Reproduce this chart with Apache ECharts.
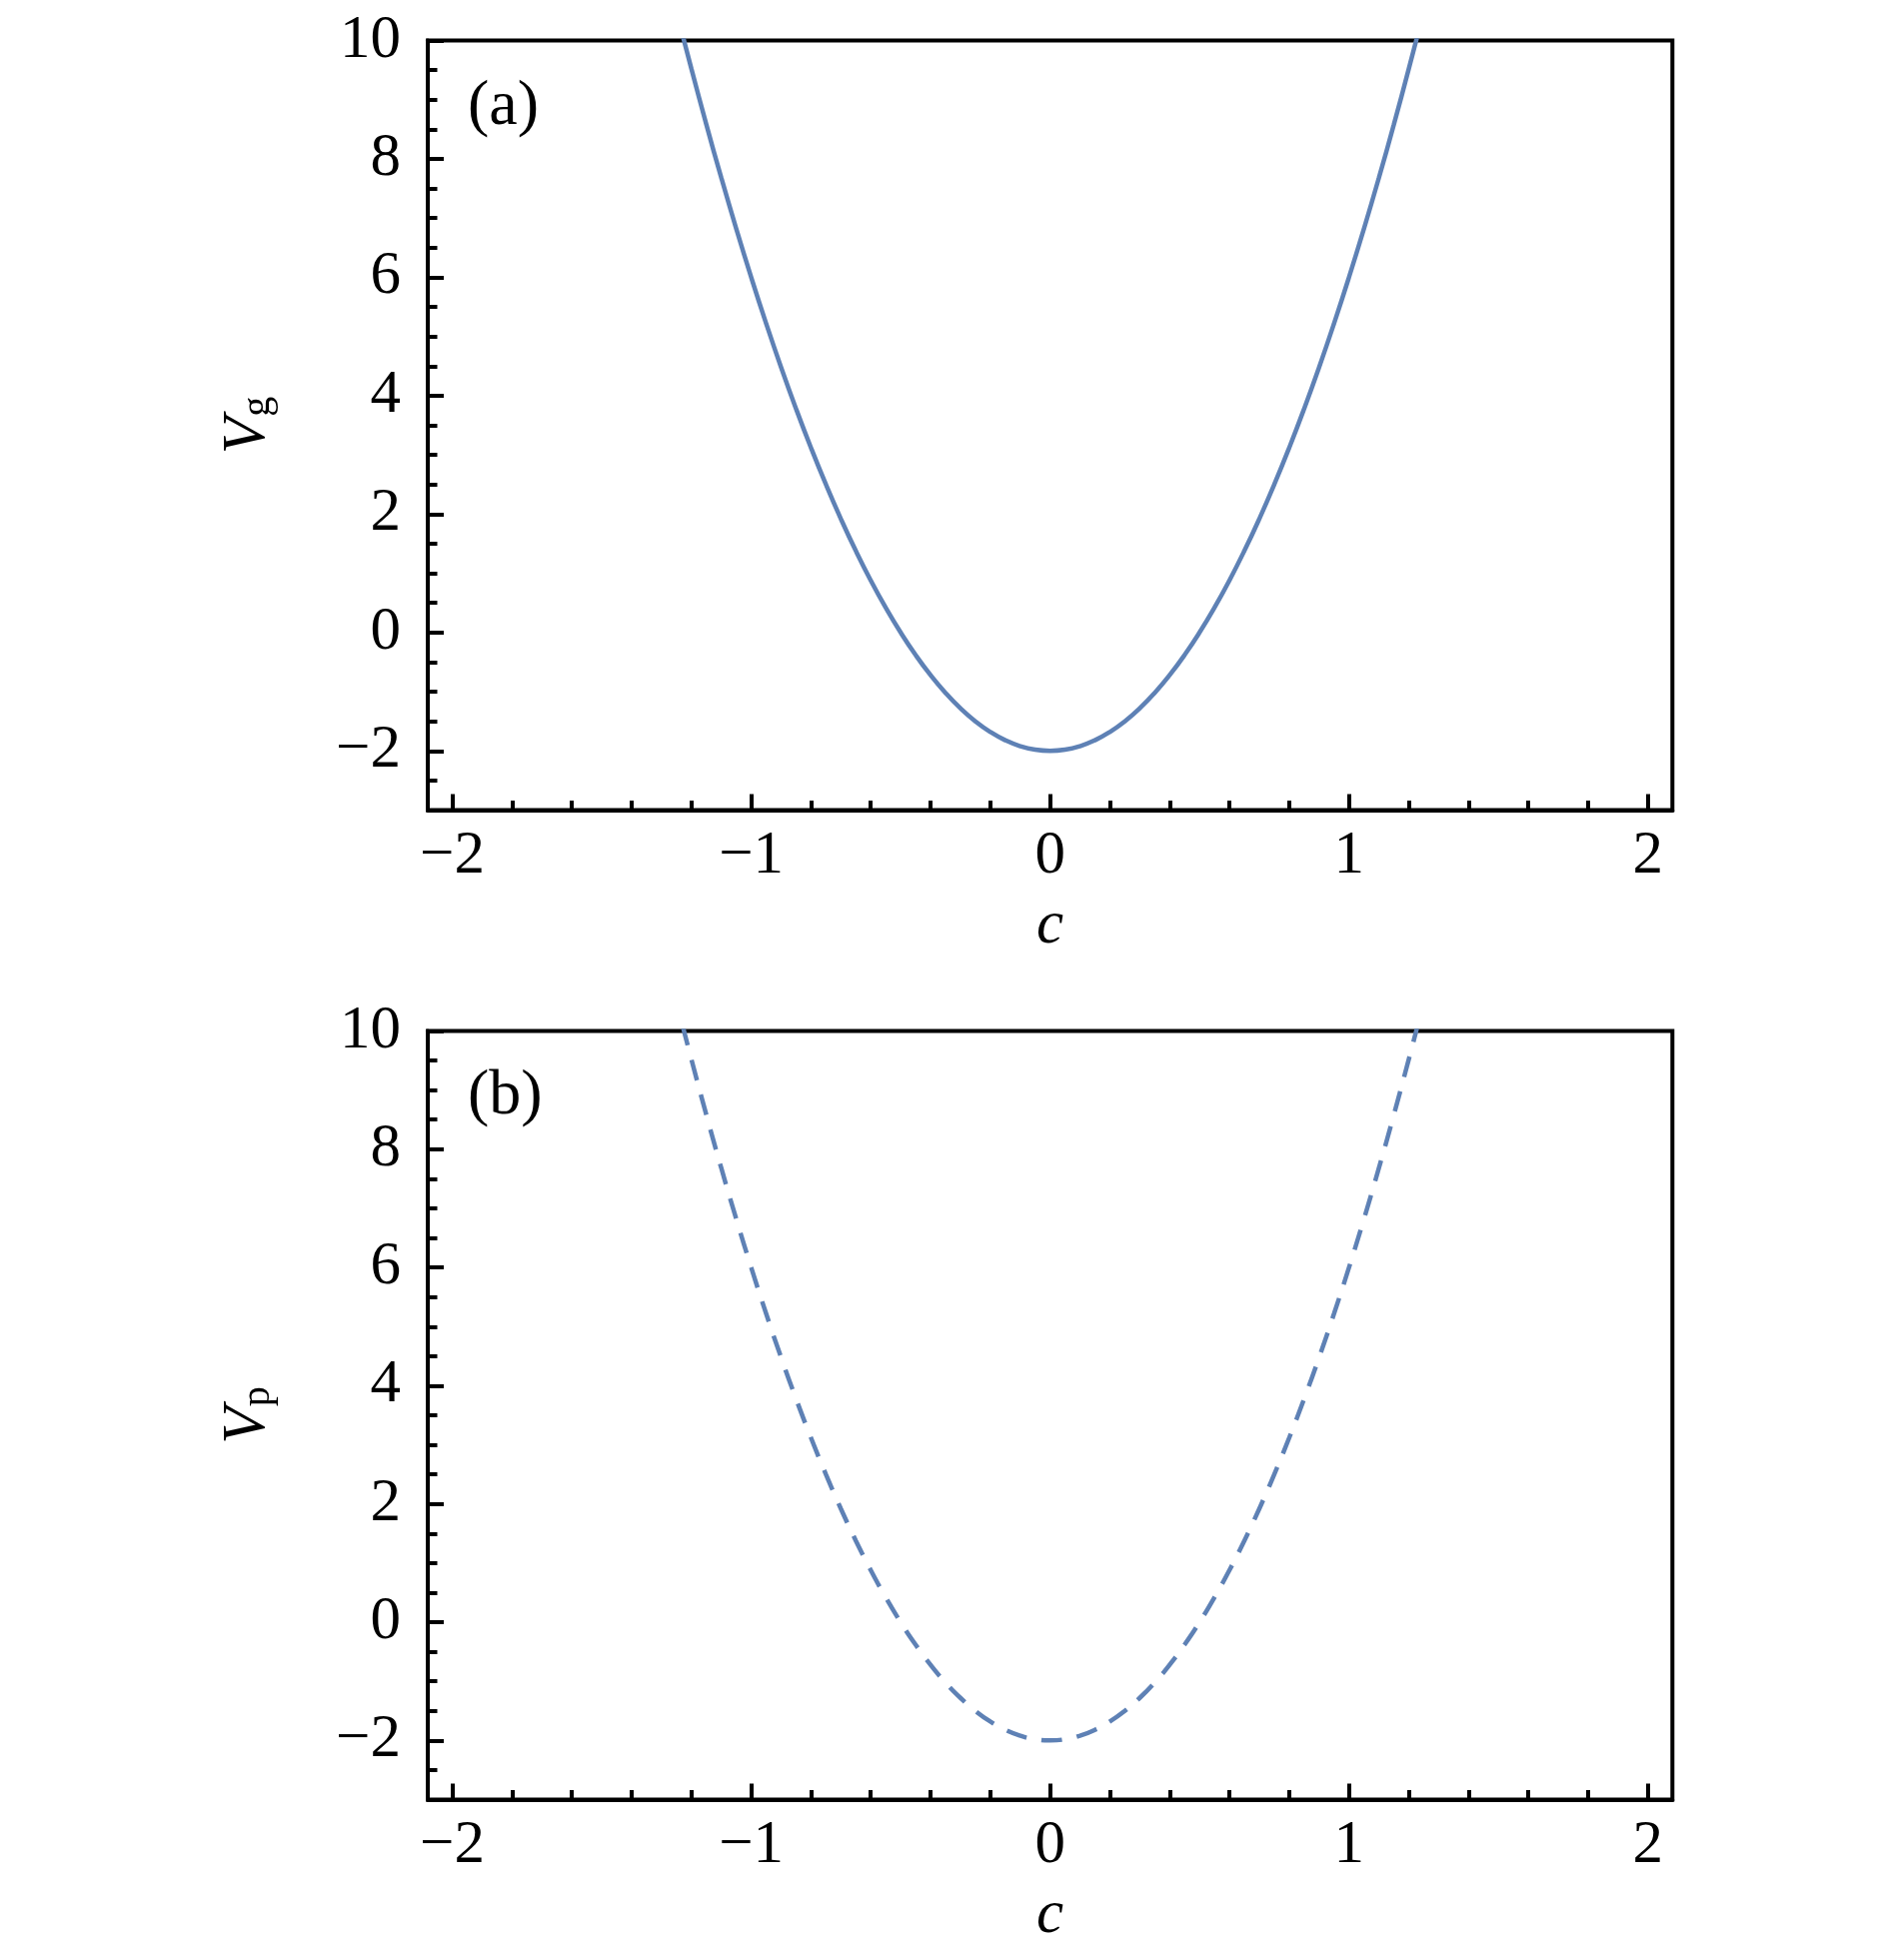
<!DOCTYPE html>
<html>
<head>
<meta charset="utf-8">
<script src="https://cdn.jsdelivr.net/npm/echarts@6/dist/echarts.min.js"></script>
<style>
html,body{margin:0;padding:0;background:#fff;}
#chart{width:1890px;height:1961px;}
</style>
</head>
<body>
<div id="chart"></div>
<script>
// ---- data ----
const cValues = [-1.23, -1.2, -1.15, -1.1, -1.05, -1.0, -0.95, -0.9, -0.85, -0.8, -0.75, -0.7, -0.65, -0.6,
                 -0.55, -0.5, -0.45, -0.4, -0.35, -0.3, -0.25, -0.2, -0.15, -0.1, -0.05, 0.0,
                 0.05, 0.1, 0.15, 0.2, 0.25, 0.3, 0.35, 0.4, 0.45, 0.5, 0.55, 0.6, 0.65, 0.7, 0.75,
                 0.8, 0.85, 0.9, 0.95, 1.0, 1.05, 1.1, 1.15, 1.2, 1.23];
const vgValues = [10.1, 9.52, 8.58, 7.68, 6.82, 6.0, 5.22, 4.48, 3.78, 3.12, 2.5, 1.92, 1.38, 0.88,
                  0.42, 0.0, -0.38, -0.72, -1.02, -1.28, -1.5, -1.68, -1.82, -1.92, -1.98, -2.0,
                  -1.98, -1.92, -1.82, -1.68, -1.5, -1.28, -1.02, -0.72, -0.38, 0.0, 0.42, 0.88, 1.38, 1.92, 2.5,
                  3.12, 3.78, 4.48, 5.22, 6.0, 6.82, 7.68, 8.58, 9.52, 10.1];
const vpValues = [10.1, 9.52, 8.58, 7.68, 6.82, 6.0, 5.22, 4.48, 3.78, 3.12, 2.5, 1.92, 1.38, 0.88,
                  0.42, 0.0, -0.38, -0.72, -1.02, -1.28, -1.5, -1.68, -1.82, -1.92, -1.98, -2.0,
                  -1.98, -1.92, -1.82, -1.68, -1.5, -1.28, -1.02, -0.72, -0.38, 0.0, 0.42, 0.88, 1.38, 1.92, 2.5,
                  3.12, 3.78, 4.48, 5.22, 6.0, 6.82, 7.68, 8.58, 9.52, 10.1];
const xMajorTicks = [-2, -1, 0, 1, 2];
const xMinorTicks = [-1.8, -1.6, -1.4, -1.2, -0.8, -0.6, -0.4, -0.2, 0.2, 0.4, 0.6, 0.8, 1.2, 1.4, 1.6, 1.8];
const yMajorTicks = [-2, 0, 2, 4, 6, 8, 10];
const yMinorTicks = [-2.5, -1.5, -1, -0.5, 0.5, 1, 1.5, 2.5, 3, 3.5, 4.5, 5, 5.5, 6.5, 7, 7.5, 8.5, 9, 9.5];
const panelLabels = ['(a)', '(b)'];
const yNames = ['g', 'p'];

// ---- styling ----
const FONT = 'Liberation Serif';
const FS = 61;
const LINE_COLOR = '#5E81B5';
const X_MIN = -2.082, X_MAX = 2.082, Y_MIN = -3, Y_MAX = 10;
const fmt = v => (v < 0 ? '\u2212' + Math.abs(v) : String(v));

const gridRects = [
  {left: 428, top: 40.5, width: 1245.3, height: 770},
  {left: 428, top: 1031.5, width: 1245.3, height: 769}
];

const grids = [];
const xAxes = [];
const yAxes = [];
const series = [];

gridRects.forEach(r => {
  grids.push(Object.assign({show: true, borderColor: '#000', borderWidth: 4, backgroundColor: 'transparent'}, r));
});
gridRects.forEach(r => {
  grids.push(Object.assign({show: false}, r));
});

for (let i = 0; i < 2; i++) {
  xAxes.push({
    type: 'value', gridIndex: i, min: X_MIN, max: X_MAX,
    name: 'c', nameLocation: 'middle', nameGap: 86,
    nameTextStyle: {fontFamily: FONT, fontSize: FS, fontStyle: 'italic', color: '#000'},
    axisLine: {show: true, onZero: false, lineStyle: {color: '#000', width: 4}},
    axisTick: {show: true, inside: true, length: 16, customValues: xMajorTicks, lineStyle: {color: '#000', width: 4}},
    axisLabel: {show: true, customValues: xMajorTicks, formatter: fmt, margin: 16,
                fontFamily: FONT, fontSize: FS, color: '#000'},
    splitLine: {show: false}
  });
  yAxes.push({
    type: 'value', gridIndex: i, min: Y_MIN, max: Y_MAX,
    name: '{v|V}{s|' + yNames[i] + '}', nameLocation: 'middle', nameGap: 150, nameRotate: 90,
    nameTextStyle: {
      color: '#000',
      rich: {
        v: {fontFamily: FONT, fontSize: FS, fontStyle: 'italic', color: '#000', lineHeight: 60, verticalAlign: 'bottom'},
        s: {fontFamily: FONT, fontSize: 40, color: '#000', lineHeight: 31, verticalAlign: 'bottom'}
      }
    },
    axisLine: {show: true, onZero: false, lineStyle: {color: '#000', width: 4}},
    axisTick: {show: true, inside: true, length: 16, customValues: yMajorTicks, lineStyle: {color: '#000', width: 4}},
    axisLabel: {show: true, customValues: yMajorTicks, formatter: fmt, margin: 27,
                fontFamily: FONT, fontSize: FS, color: '#000'},
    splitLine: {show: false}
  });
}
for (let i = 0; i < 2; i++) {
  xAxes.push({
    type: 'value', gridIndex: 2 + i, min: X_MIN, max: X_MAX,
    axisLine: {show: false, onZero: false},
    axisTick: {show: true, inside: true, length: 9.5, customValues: xMinorTicks, lineStyle: {color: '#000', width: 4}},
    axisLabel: {show: false},
    splitLine: {show: false}
  });
  yAxes.push({
    type: 'value', gridIndex: 2 + i, min: Y_MIN, max: Y_MAX,
    axisLine: {show: false, onZero: false},
    axisTick: {show: true, inside: true, length: 9.5, customValues: yMinorTicks, lineStyle: {color: '#000', width: 4}},
    axisLabel: {show: false},
    splitLine: {show: false}
  });
}

series.push({
  type: 'line', xAxisIndex: 0, yAxisIndex: 0, showSymbol: false, smooth: 0.5, clip: true,
  lineStyle: {color: LINE_COLOR, width: 4.5},
  data: cValues.map((c, k) => [c, vgValues[k]])
});
series.push({
  type: 'line', xAxisIndex: 1, yAxisIndex: 1, showSymbol: false, smooth: 0.5, clip: true,
  lineStyle: {color: LINE_COLOR, width: 4.5, type: [21, 15]},
  data: cValues.map((c, k) => [c, vpValues[k]])
});

const chart = echarts.init(document.getElementById('chart'), null, {renderer: 'canvas'});
chart.setOption({
  backgroundColor: '#fff',
  animation: false,
  grid: grids,
  xAxis: xAxes,
  yAxis: yAxes,
  series: series,
  graphic: [
    {type: 'text', x: 468, y: 107, style: {text: panelLabels[0], fontFamily: FONT, fontSize: 64, fill: '#000', verticalAlign: 'middle'}},
    {type: 'text', x: 468, y: 1097, style: {text: panelLabels[1], fontFamily: FONT, fontSize: 64, fill: '#000', verticalAlign: 'middle'}}
  ]
});
</script>
</body>
</html>
